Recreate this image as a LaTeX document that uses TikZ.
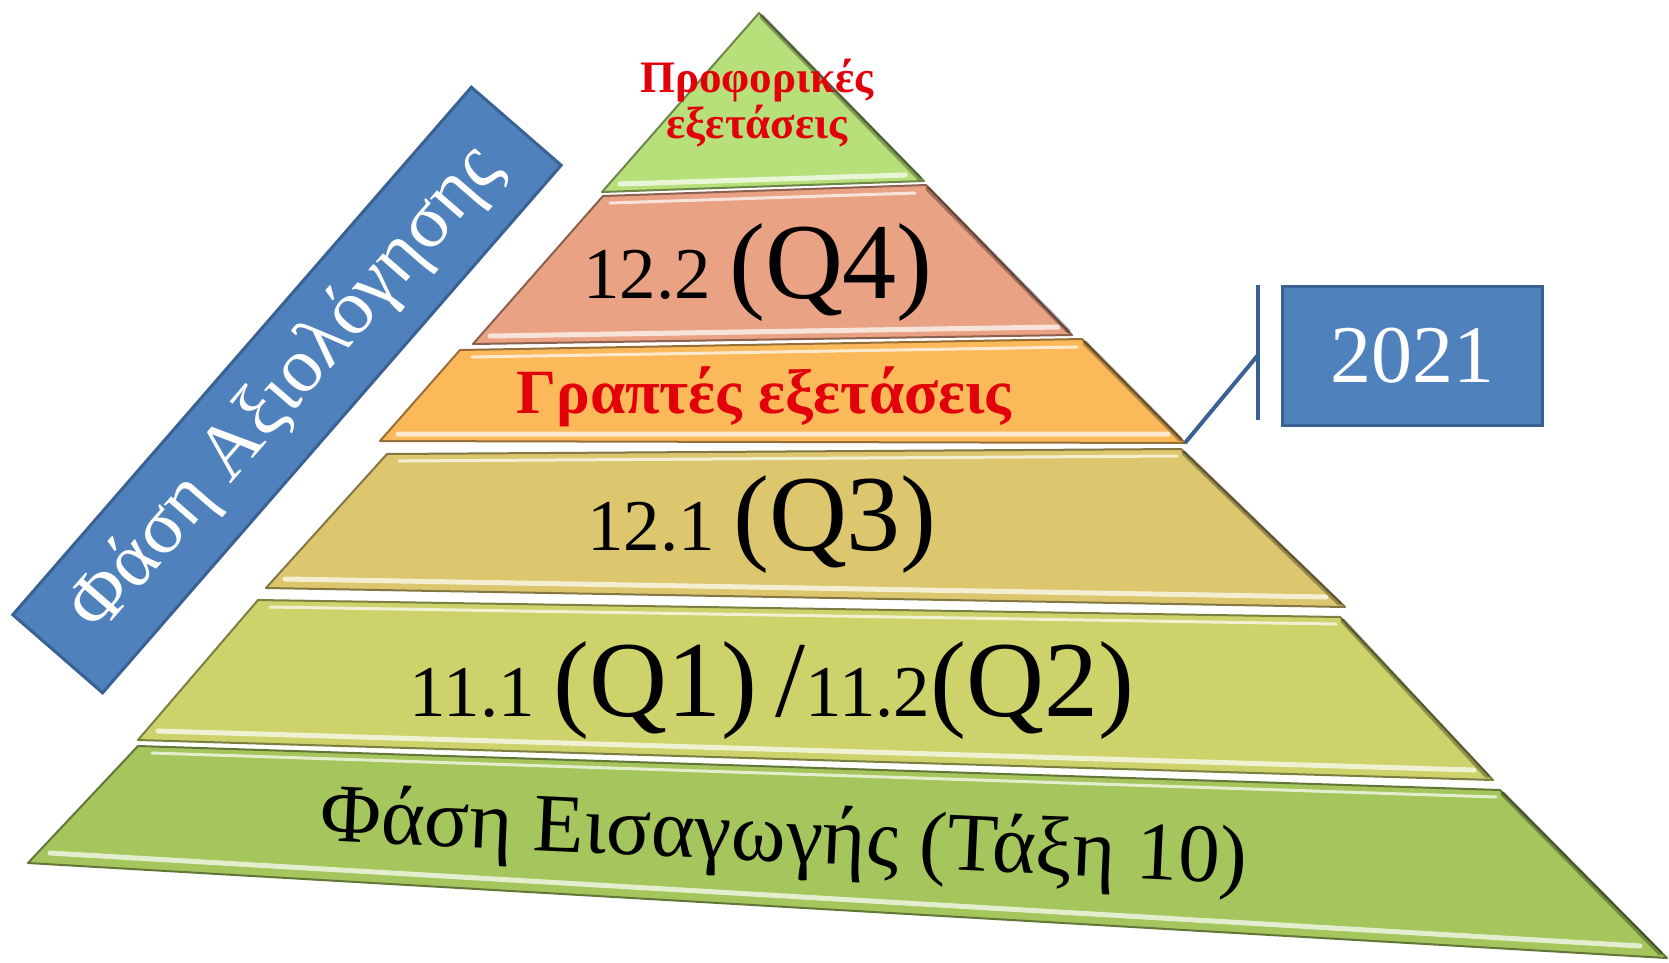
\documentclass[tikz,border=0pt]{standalone}
\usepackage{fontspec}
\setmainfont{Liberation Serif}
\usetikzlibrary{positioning}

\definecolor{apexgreen}{HTML}{B7E07A}
\definecolor{qfourpink}{HTML}{E9A283}
\definecolor{writorange}{HTML}{FBB95A}
\definecolor{qthreekhaki}{HTML}{DCC76E}
\definecolor{qonelime}{HTML}{CDD36A}
\definecolor{introgreen}{HTML}{A4C65C}
\definecolor{boxblue}{HTML}{4F81BD}
\definecolor{boxedge}{HTML}{3A6194}
\definecolor{examred}{HTML}{E2000A}

\newcommand{\qnum}[1]{{\fontsize{73}{80}\selectfont #1}}
\newcommand{\qbig}[1]{{\fontsize{108}{120}\selectfont #1}}

\begin{document}
\begin{tikzpicture}[x=1pt, y=-1pt,
    % Define the style for the layers
    layer/.style={
        draw=#1!60!black,
        fill=#1,
        line width=2pt,
        line join=round
    },
    % Define the style for the light rims
    rim/.style={
        draw=white,
        draw opacity=0.7,
        line width=5pt,
        line cap=round
    },
    % Define the style for the dark side
    shadow/.style={
        draw=black,
        draw opacity=0.3,
        line width=5pt,
        line cap=round
    },
    % Define the style for the texts
    qtext/.style={
        anchor=base,
        font=\fontsize{73}{80}\selectfont
    },
    redtext/.style={
        text=examred,
        align=center
    },
    % Define the style for the blue boxes
    bluebox/.style={
        rectangle,
        draw=boxedge,
        fill=boxblue,
        line width=3pt,
        text=white
    },
    % Define the style for the callout
    callout/.style={
        draw=boxedge,
        line width=4pt
    }
]

    \useasboundingbox (0,0) rectangle (1669,962);
    \fill[white] (0,0) rectangle (1669,962);

    % Draw the layers of the pyramid
    \filldraw[layer=apexgreen] (759,13) -- (924,181) -- (602,192) -- cycle;
    \filldraw[layer=qfourpink] (603,196) -- (926,185) -- (1072,335) -- (473,344) -- cycle;
    \filldraw[layer=writorange] (460,350) -- (1082,339) -- (1185,443) coordinate (wri-br) -- (380,441) -- cycle;
    \filldraw[layer=qthreekhaki] (387,454) -- (1181,449) -- (1345,607) -- (266,588) -- cycle;
    \filldraw[layer=qonelime] (258,600) -- (1340,617) -- (1493,780) -- (138,740) -- cycle;
    \filldraw[layer=introgreen] (138,746) -- (1500,790) -- (1667,958) -- (28,863) -- cycle;

    % Light rims and dark side
    \draw[rim] (620,184) -- (905,175) (490,336) -- (1058,327) (398,434) -- (1168,434)
               (285,579) -- (1326,597) (158,731) -- (1474,770) (50,853) -- (1640,946);
    \draw[rim, line width=3pt] (610,203) -- (915,193) (472,357) -- (1077,347) (399,461) -- (1177,456)
               (270,607) -- (1336,624) (152,753) -- (1496,797);
    \draw[shadow] (762,17) -- (919,178) (928,189) -- (1068,331) (1085,343) -- (1180,439)
                  (1184,453) -- (1339,603) (1343,621) -- (1487,776) (1503,794) -- (1660,953);

    % Place the texts of the layers
    \node[redtext, font=\bfseries\fontsize{45}{46}\selectfont] (oral) at (757,103) {Προφορικές\\εξετάσεις};
    \node[qtext] (q4) at (758,298) {\qnum{12.2} \qbig{(Q4)}};
    \node[redtext, anchor=base, font=\bfseries\fontsize{63}{66}\selectfont] (written) at (764,413) {Γραπτές εξετάσεις};
    \node[qtext] (q3) at (762,550) {\qnum{12.1} \qbig{(Q3)}};
    \node[qtext] (q12) at (772,716) {\qnum{11.1} \qbig{(Q1)} \qbig{/}\qnum{11.2}\qbig{(Q2)}};
    \node[anchor=base, rotate=-2.7, font=\fontsize{83}{90}\selectfont] (intro) at (783,862) {Φάση Εισαγωγής (Τάξη 10)};

    % Place the blue boxes
    \node[bluebox, rotate=49, minimum width=699pt, minimum height=119pt,
          font=\fontsize{78}{86}\selectfont] (phase) at (287,390) {Φάση Αξιολόγησης};
    \node[bluebox, minimum width=260pt, minimum height=139pt,
          font=\fontsize{82}{88}\selectfont] (year) at (1412,356) {2021};

    % Draw the callout
    \coordinate (bar-top) at (1258,285);
    \coordinate (bar-bot) at (1258,420);
    \coordinate (bar-mid) at (1258,355);
    \path[callout] (bar-top) -- (bar-bot);
    \path[callout] (wri-br) -- (bar-mid);

\end{tikzpicture}
\end{document}
